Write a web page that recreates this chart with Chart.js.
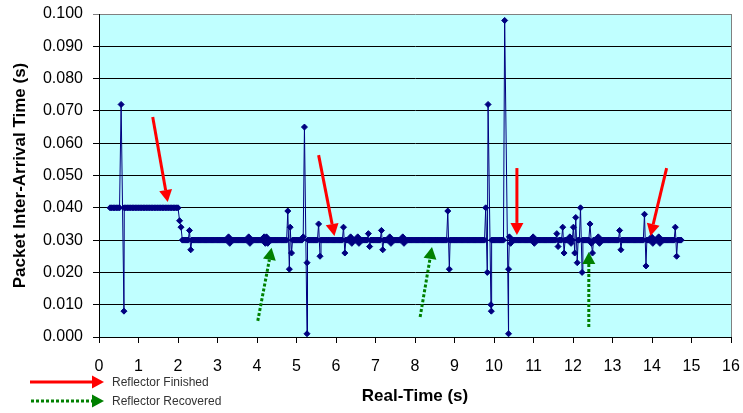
<!DOCTYPE html>
<html>
<head>
<meta charset="utf-8">
<script src="https://cdn.jsdelivr.net/npm/chart.js@4.4.1/dist/chart.umd.min.js"></script>
<style>
  body { margin: 0; background: #fff; }
  #gapChart { display: block; }
</style>
</head>
<body>
<canvas id="gapChart" width="743" height="413"></canvas>
<script>
// Packet inter-arrival times (s), written as [count, value] runs in arrival order
const startTime = 0.28;
const gapRuns = [
    [7, 0.040], [1, 0.072], [1, 0.008], [35, 0.040], [1, 0.036], [1, 0.034],
    [6, 0.030], [1, 0.033], [1, 0.027],
    [31, 0.030], [1, 0.031], [1, 0.029],
    [15, 0.030], [1, 0.031], [1, 0.029],
    [11, 0.030], [1, 0.031], [1, 0.029], [1, 0.031], [1, 0.029],
    [16, 0.030], [1, 0.039], [1, 0.021], [1, 0.034], [1, 0.026],
    [9, 0.030], [1, 0.031], [1, 0.065], [1, 0.001], [1, 0.023],
    [9, 0.030], [1, 0.035], [1, 0.025],
    [19, 0.030], [1, 0.034], [1, 0.026],
    [4, 0.030], [1, 0.031], [1, 0.029],
    [4, 0.030], [1, 0.031], [1, 0.029],
    [7, 0.030], [1, 0.032], [1, 0.028],
    [9, 0.030], [1, 0.033], [1, 0.027],
    [5, 0.030], [1, 0.031], [1, 0.029],
    [9, 0.030], [1, 0.031], [1, 0.029],
    [36, 0.030], [1, 0.039], [1, 0.021],
    [30, 0.030], [1, 0.040], [1, 0.020], [1, 0.072], [1, 0.010], [1, 0.008],
    [11, 0.030], [1, 0.098], [1, 0.001], [1, 0.021],
    [1, 0.031], [1, 0.029],
    [18, 0.030], [1, 0.031], [1, 0.029],
    [18, 0.030], [1, 0.032], [1, 0.028],
    [3, 0.030], [1, 0.034], [1, 0.026],
    [4, 0.030], [1, 0.031], [1, 0.029],
    [1, 0.030], [1, 0.034], [1, 0.026], [1, 0.037], [1, 0.023],
    [2, 0.030], [1, 0.040], [1, 0.020],
    [6, 0.030], [1, 0.035], [1, 0.029], [1, 0.026],
    [4, 0.030], [1, 0.031], [1, 0.029],
    [16, 0.030], [1, 0.033], [1, 0.027],
    [19, 0.030], [1, 0.038], [1, 0.022],
    [4, 0.030], [1, 0.031], [1, 0.029],
    [4, 0.030], [1, 0.031], [1, 0.029],
    [12, 0.030], [1, 0.034], [1, 0.025],
    [4, 0.030]
];

// Annotation arrows as [fromTime, fromGap, toTime, toGap]
const finishedArrows = [
    [1.36, 0.0681, 1.74, 0.0418],
    [5.56, 0.0563, 5.96, 0.0313],
    [10.58, 0.0523, 10.58, 0.0316],
    [14.37, 0.0523, 13.96, 0.0313]
];
const recoveredArrows = [
    [4.02, 0.0050, 4.37, 0.0276],
    [8.13, 0.0062, 8.43, 0.0279],
    [12.40, 0.0031, 12.40, 0.0263]
];
const noteLabels = ['Reflector Finished', 'Reflector Recovered'];

// Each point sits at the time the previous packet arrived
const points = [];
let t = startTime;
gapRuns.forEach(([count, gap]) => {
    for (let i = 0; i < count; i++) {
        points.push({ x: t, y: gap });
        t += gap;
    }
});

function drawArrow(ctx, x1, y1, x2, y2, color, dotted) {
    const ang = Math.atan2(y2 - y1, x2 - x1);
    const headLen = 12, headW = 6.5;
    const bx = x2 - headLen * Math.cos(ang);
    const by = y2 - headLen * Math.sin(ang);
    ctx.save();
    ctx.strokeStyle = color;
    ctx.fillStyle = color;
    ctx.lineWidth = 3;
    if (dotted) ctx.setLineDash([3, 2]);
    ctx.beginPath();
    ctx.moveTo(x1, y1);
    ctx.lineTo(bx, by);
    ctx.stroke();
    ctx.setLineDash([]);
    ctx.beginPath();
    ctx.moveTo(x2, y2);
    ctx.lineTo(bx + headW * Math.sin(ang), by - headW * Math.cos(ang));
    ctx.lineTo(bx - headW * Math.sin(ang), by + headW * Math.cos(ang));
    ctx.closePath();
    ctx.fill();
    ctx.restore();
}

const plotDecor = {
    id: 'plotDecor',
    beforeDraw(chart) {
        const { ctx, chartArea: a } = chart;
        ctx.save();
        ctx.fillStyle = '#C0FFFF';
        ctx.fillRect(a.left, a.top, a.right - a.left, a.bottom - a.top);
        ctx.restore();
    },
    beforeDatasetsDraw(chart) {
        const { ctx, chartArea: a } = chart;
        ctx.save();
        ctx.strokeStyle = '#808080';
        ctx.lineWidth = 1;
        ctx.beginPath();
        ctx.moveTo(a.right + 0.5, a.top);
        ctx.lineTo(a.right + 0.5, a.bottom);
        ctx.stroke();
        ctx.restore();
    },
    afterDraw(chart) {
        const { ctx, scales: { x, y } } = chart;
        finishedArrows.forEach(([t1, g1, t2, g2]) => {
            drawArrow(ctx, x.getPixelForValue(t1), y.getPixelForValue(g1),
                x.getPixelForValue(t2), y.getPixelForValue(g2), '#FF0000', false);
        });
        recoveredArrows.forEach(([t1, g1, t2, g2]) => {
            drawArrow(ctx, x.getPixelForValue(t1), y.getPixelForValue(g1),
                x.getPixelForValue(t2), y.getPixelForValue(g2), '#008000', true);
        });

        // key in the bottom-left corner
        drawArrow(ctx, 30, 382, 104, 382, '#FF0000', false);
        drawArrow(ctx, 31, 401, 104, 401, '#008000', true);
        ctx.save();
        ctx.fillStyle = '#333333';
        ctx.font = '12px "Liberation Sans", Arial, sans-serif';
        ctx.textBaseline = 'middle';
        ctx.fillText(noteLabels[0], 112, 383);
        ctx.fillText(noteLabels[1], 112, 402);
        ctx.restore();
    }
};

const tickFont = { family: '"Liberation Sans", Arial, sans-serif', size: 16 };
const titleFont = { family: '"Liberation Sans", Arial, sans-serif', size: 17, weight: 'bold' };

new Chart(document.getElementById('gapChart').getContext('2d'), {
    type: 'line',
    data: {
        datasets: [{
            data: points,
            borderColor: '#000080',
            borderWidth: 1,
            backgroundColor: '#000080',
            pointStyle: 'rectRot',
            pointRadius: 3,
            pointBorderWidth: 1,
            pointBorderColor: '#000080',
            pointBackgroundColor: '#000080',
            tension: 0,
            fill: false
        }]
    },
    options: {
        responsive: false,
        animation: false,
        layout: { padding: { top: 14, right: 12, left: 0, bottom: 0 } },
        plugins: {
            legend: { display: false },
            tooltip: { enabled: false }
        },
        scales: {
            x: {
                type: 'linear',
                min: 0,
                max: 16,
                afterFit(scale) {
                    scale.height = 76;
                    scale.paddingLeft = 0;
                    scale.paddingRight = 0;
                },
                ticks: { stepSize: 1, color: '#000', font: tickFont, padding: 14, maxRotation: 0 },
                grid: { drawOnChartArea: false, drawTicks: true, tickLength: 6, color: '#000' },
                border: { color: '#000', width: 1 },
                title: { display: true, text: 'Real-Time (s)', color: '#000', font: titleFont, padding: { bottom: 6 } }
            },
            y: {
                min: 0,
                max: 0.1,
                afterFit(scale) {
                    scale.width = 99;
                    scale.paddingTop = 0;
                    scale.paddingBottom = 0;
                },
                ticks: {
                    stepSize: 0.01,
                    color: '#000',
                    font: tickFont,
                    padding: 10,
                    callback: v => v.toFixed(3)
                },
                grid: {
                    tickLength: 6,
                    lineWidth: 1,
                    color: ctx => (ctx.tick && ctx.tick.value > 0.0995 ? '#808080' : '#000')
                },
                border: { color: '#000', width: 1 },
                title: { display: true, text: 'Packet Inter-Arrival Time (s)', color: '#000', font: titleFont, padding: { top: 10 } }
            }
        }
    },
    plugins: [plotDecor]
});
</script>
</body>
</html>
